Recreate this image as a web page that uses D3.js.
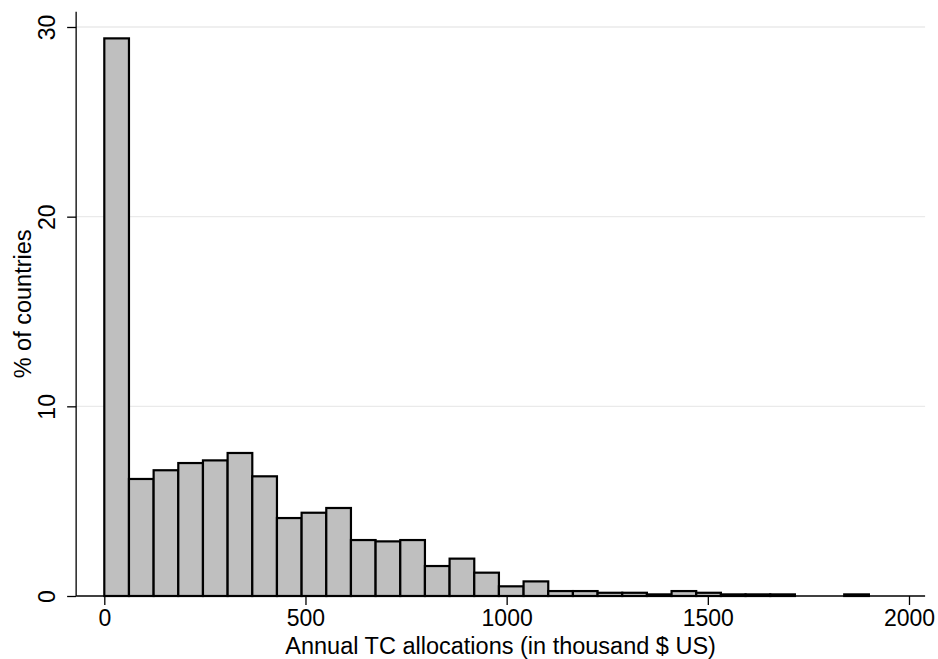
<!DOCTYPE html>
<html>
<head>
<meta charset="utf-8">
<script src="https://cdn.jsdelivr.net/npm/d3@7"></script>
<style>
  body { margin: 0; background: #fff; }
  svg { display: block; }
  text { font-family: "Liberation Sans", Arial, Helvetica, sans-serif; fill: #000; }
</style>
</head>
<body>
<div id="chart"></div>
<script>
//Histogram of annual TC allocations

//Bins start at 0, each one binWidth wide (thousand $ US)
var binWidth = 61.3;
//Percent of countries in each bin
var percents = [29.4, 6.17, 6.63, 7.01, 7.15, 7.54, 6.31, 4.11, 4.39, 4.64,
                2.95, 2.88, 2.95, 1.58, 1.97, 1.23, 0.51, 0.77, 0.26, 0.26,
                0.17, 0.17, 0.085, 0.26, 0.17, 0.085, 0.085, 0.085, 0, 0, 0.085];
var xTicks = [0, 500, 1000, 1500, 2000];
var yTicks = [0, 10, 20, 30];
var xTitle = "Annual TC allocations (in thousand $ US)";
var yTitle = "% of countries";

var width = 938, height = 659;

var bins = percents.map(function(p, i) {
    return {x0: i * binWidth, x1: (i + 1) * binWidth, value: p};
});

//Scales (plot region runs a bit beyond the ticks, like Stata)
var x = d3.scaleLinear().domain([0, 2000]).range([104.3, 909]);
var y = d3.scaleLinear().domain([0, 30]).range([596, 27]);
var xMin = -70, xMax = 2040, yMax = 30.8;

var svg = d3.select("#chart").append("svg")
    .attr("width", width)
    .attr("height", height);

//Light horizontal grid lines
svg.append("g")
    .selectAll("line")
    .data(yTicks.slice(1))
    .enter()
    .append("line")
    .attr("x1", x(xMin))
    .attr("x2", x(xMax))
    .attr("y1", function(d) { return y(d); })
    .attr("y2", function(d) { return y(d); })
    .style("stroke", "#eaeaea")
    .style("stroke-width", 1.3);

//Bars
svg.append("g")
    .selectAll("rect")
    .data(bins.filter(function(d) { return d.value > 0; }))
    .enter()
    .append("rect")
    .attr("x", function(d) { return x(d.x0); })
    .attr("width", function(d) { return x(d.x1) - x(d.x0); })
    .attr("y", function(d) { return y(d.value); })
    .attr("height", function(d) { return y(0) - y(d.value); })
    .style("fill", "#bfbfbf")
    .style("stroke", "#000")
    .style("stroke-width", 2.2);

//X axis
var xAxis = svg.append("g")
    .attr("transform", "translate(0," + y(0) + ")")
    .call(d3.axisBottom(x).tickValues(xTicks).tickFormat(d3.format("d"))
        .tickSize(9).tickPadding(5).tickSizeOuter(0));
xAxis.select(".domain").remove();
xAxis.append("line")
    .attr("x1", x(xMin)).attr("x2", x(xMax))
    .style("stroke", "#000").style("stroke-width", 1.3);
xAxis.selectAll(".tick line").style("stroke-width", 1.3);
xAxis.selectAll(".tick text")
    .style("font-size", "23px")
    .style("font-family", "'Liberation Sans', Arial, sans-serif")
    .style("fill", "#000");

//Y axis (labels rotated like Stata)
var yAxis = svg.append("g")
    .attr("transform", "translate(" + x(xMin) + ",0)")
    .call(d3.axisLeft(y).tickValues(yTicks).tickFormat(d3.format("d"))
        .tickSize(9).tickSizeOuter(0));
yAxis.select(".domain").remove();
yAxis.append("line")
    .attr("y1", y(0)).attr("y2", y(yMax))
    .style("stroke", "#000").style("stroke-width", 1.3);
yAxis.selectAll(".tick line").style("stroke-width", 1.3);
yAxis.selectAll(".tick text")
    .attr("x", null).attr("dy", null)
    .attr("text-anchor", "middle")
    .attr("transform", "translate(-21,0) rotate(-90)")
    .style("font-size", "23px")
    .style("font-family", "'Liberation Sans', Arial, sans-serif")
    .style("fill", "#000");

//Axis titles
svg.append("text")
    .attr("x", (x(xMin) + x(xMax)) / 2)
    .attr("y", 653.5)
    .attr("text-anchor", "middle")
    .style("font-size", "23.5px")
    .text(xTitle);

svg.append("text")
    .attr("transform", "translate(31," + (y(0) + y(yMax)) / 2 + ") rotate(-90)")
    .attr("text-anchor", "middle")
    .style("font-size", "23.5px")
    .text(yTitle);
</script>
</body>
</html>
